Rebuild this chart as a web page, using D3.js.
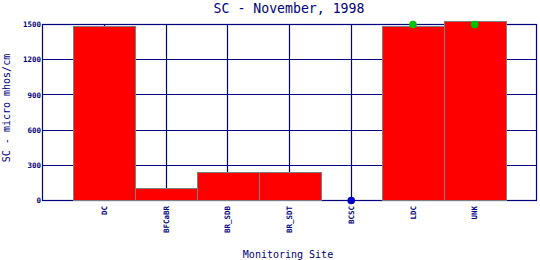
<!DOCTYPE html>
<html><head><meta charset="utf-8">
<script src="https://cdn.jsdelivr.net/npm/d3@7"></script>
<style>body{margin:0;background:#fff}svg{display:block}</style>
</head><body>
<script>
const categories = ["DC","BFCaBR","BR_SDB","BR_SDT","BCSC","LDC","UNK"];
const barValues = [1490, 110, 247, 247, null, 1490, 1530];
const greenPoints = [{site:"LDC", value:1500},{site:"UNK", value:1500}];
const bluePoints = [{site:"BCSC", value:0}];
const yTicks = [0,300,600,900,1200,1500];
const title = "SC - November, 1998";
const xLabel = "Monitoring Site";
const yLabel = "SC - micro mhos/cm";

const W=540,H=260;
const L=42.5,R=536.5,T=24.5,B=200.5;
const navy="#000080";
const font="'DejaVu Sans Mono', monospace";
const snap=v=>Math.round(v-0.5)+0.5;

const svg=d3.select("body").append("svg").attr("width",W).attr("height",H);
const x=d3.scalePoint().domain(categories).range([L,R]).padding(1);
const y=d3.scaleLinear().domain([0,1500]).range([B,T]);
const step=x.step();

// grid
svg.append("g").selectAll("line").data(yTicks).join("line")
  .attr("x1",L).attr("x2",R).attr("y1",d=>snap(y(d))).attr("y2",d=>snap(y(d)))
  .attr("stroke",navy).attr("stroke-width",1.2);
svg.append("g").selectAll("line").data(categories).join("line")
  .attr("x1",d=>snap(x(d))).attr("x2",d=>snap(x(d))).attr("y1",T).attr("y2",B)
  .attr("stroke",navy).attr("stroke-width",1.2);
svg.append("rect").attr("x",L).attr("y",T).attr("width",R-L).attr("height",B-T)
  .attr("fill","none").attr("stroke",navy).attr("stroke-width",1.2);

// bars
const barData=categories.map((c,i)=>({site:c,value:barValues[i]})).filter(d=>d.value!=null);
svg.append("g").selectAll("rect").data(barData).join("rect")
  .attr("x",d=>Math.round(x(d.site)-step/2)+0.5)
  .attr("width",Math.round(step))
  .attr("y",d=>Math.round(y(d.value))+0.5)
  .attr("height",d=>B-Math.round(y(d.value))-0.5)
  .attr("fill","#ff0000").attr("stroke","#808080").attr("stroke-width",1);

// points
svg.append("g").selectAll("circle").data(greenPoints).join("circle")
  .attr("cx",d=>x(d.site)).attr("cy",d=>y(d.value)).attr("r",3.8).attr("fill","#00c000");
svg.append("g").selectAll("circle").data(bluePoints).join("circle")
  .attr("cx",d=>x(d.site)).attr("cy",d=>y(d.value)).attr("r",3.8).attr("fill","#0000c8");

// y tick labels
svg.append("g").selectAll("text").data(yTicks).join("text")
  .attr("x",41).attr("y",d=>y(d)).attr("dy","0.35em").attr("text-anchor","end")
  .attr("font-family",font).attr("font-size",7.5).attr("font-weight","bold").attr("fill",navy)
  .text(d=>d);

// x tick labels
svg.append("g").selectAll("text").data(categories).join("text")
  .attr("transform",d=>`translate(${x(d)},206) rotate(-90)`)
  .attr("dy","0.35em").attr("text-anchor","end")
  .attr("font-family",font).attr("font-size",7.5).attr("font-weight","bold").attr("fill",navy)
  .text(d=>d);

// title & labels
svg.append("text").attr("x",289).attr("y",13).attr("text-anchor","middle")
  .attr("font-family",font).attr("font-size",13.2).attr("fill",navy).text(title);
svg.append("text").attr("x",288).attr("y",258).attr("text-anchor","middle")
  .attr("font-family",font).attr("font-size",10).attr("fill",navy).text(xLabel);
svg.append("text").attr("transform","translate(10,108) rotate(-90)").attr("text-anchor","middle")
  .attr("font-family",font).attr("font-size",10).attr("fill",navy).text(yLabel);
</script>
</body></html>
